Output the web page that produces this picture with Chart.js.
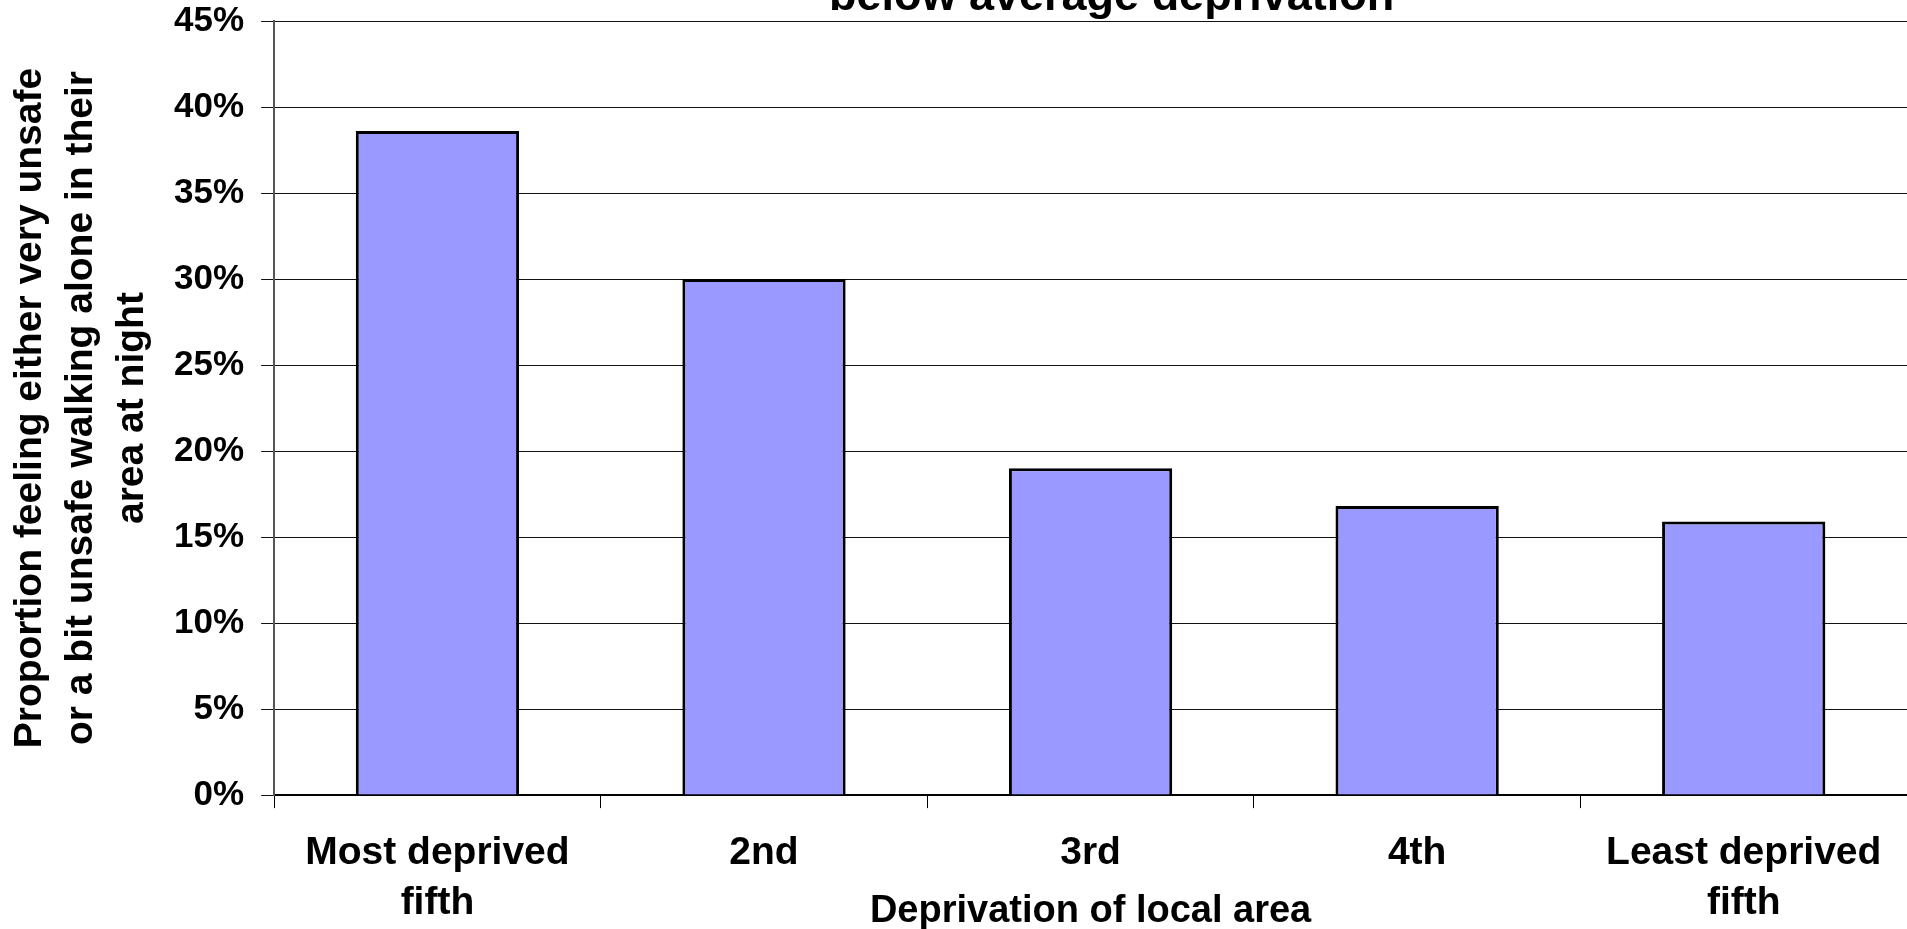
<!DOCTYPE html>
<html>
<head>
<meta charset="utf-8">
<script src="https://cdn.jsdelivr.net/npm/chart.js@4"></script>
<style>
  html, body { margin: 0; padding: 0; background: #fff; overflow: hidden; }
  #wrap { width: 1907px; height: 929px; overflow: hidden; position: relative; }
  #inner { position: absolute; left: 0; top: -17px; width: 1907px; height: 946px; }
</style>
</head>
<body>
<div id="wrap"><div id="inner"><canvas id="myChart"></canvas></div></div>
<script>
// categories (quintiles of local area deprivation)
const categories = [["Most deprived", "fifth"], "2nd", "3rd", "4th", ["Least deprived", "fifth"]];
// % feeling very or a bit unsafe walking alone at night
const unsafeValues = [38.6, 30.0, 19.0, 16.8, 15.9];
const yMin = 0;
const yMax = 45;
const yStep = 5;

const chartTitle = "below average deprivation";
const yTitle = ["Proportion feeling either very unsafe", "or a bit unsafe walking alone in their", "area at night"];
const xTitle = "Deprivation of local area";

const fontFamily = "'Liberation Sans', Arial, sans-serif";
Chart.defaults.font.family = fontFamily;
Chart.defaults.color = "#000";

// the title sits above the visible area, only its last line shows
const cutTitle = {
    id: 'cutTitle',
    afterDraw(chart) {
        const ctx = chart.ctx;
        const area = chart.chartArea;
        ctx.save();
        ctx.font = "bold 45px " + fontFamily;
        ctx.fillStyle = "#000";
        ctx.textAlign = "center";
        ctx.textBaseline = "alphabetic";
        ctx.fillText(chartTitle, (area.left + area.right) / 2 + 21, 27);
        ctx.restore();
    }
};

new Chart("myChart", {
    type: "bar",
    data: {
        labels: categories,
        datasets: [{
            data: unsafeValues,
            backgroundColor: "#9999FF",
            borderColor: "#000",
            borderWidth: 3,
            barPercentage: 0.5,
            categoryPercentage: 1.0
        }]
    },
    options: {
        responsive: true,
        maintainAspectRatio: false,
        animation: false,
        layout: { padding: 0 },
        plugins: {
            legend: { display: false },
            title: { display: false },
            tooltip: { enabled: false }
        },
        scales: {
            x: {
                grid: {
                    drawOnChartArea: false,
                    drawTicks: true,
                    tickLength: 13,
                    color: "#000",
                    lineWidth: 1
                },
                border: { color: "#000", width: 2 },
                ticks: {
                    autoSkip: false,
                    maxRotation: 0,
                    padding: 21,
                    font: { size: 39, weight: "bold", lineHeight: 1.26 },
                    color: "#000"
                },
                title: {
                    display: true,
                    text: xTitle,
                    font: { size: 38, weight: "bold", lineHeight: 1.2 },
                    color: "#000",
                    padding: { top: -60, bottom: -5 }
                }
            },
            y: {
                min: yMin,
                max: yMax,
                grid: {
                    color: "#111",
                    lineWidth: 1,
                    tickLength: 13
                },
                border: { color: "#555", width: 2 },
                ticks: {
                    stepSize: yStep,
                    padding: 17,
                    font: { size: 35, weight: "bold" },
                    color: "#000",
                    callback: v => v + "%"
                },
                title: {
                    display: true,
                    text: yTitle,
                    font: { size: 39, weight: "bold", lineHeight: 1.3 },
                    color: "#000",
                    padding: { top: 5, bottom: 0 }
                }
            }
        }
    },
    plugins: [cutTitle]
});
</script>
</body>
</html>
